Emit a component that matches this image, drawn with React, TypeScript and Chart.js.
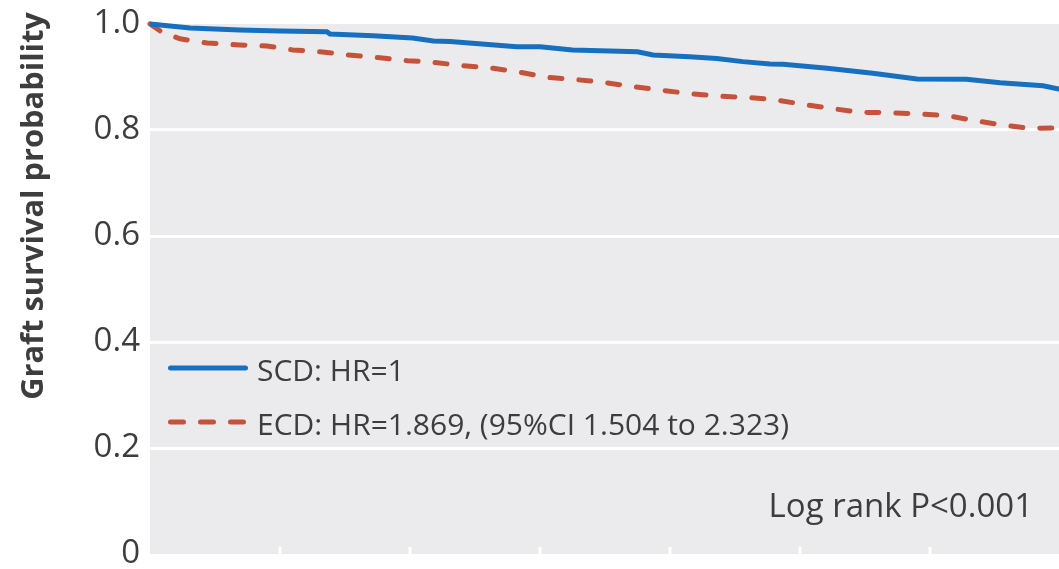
import React, { useEffect, useRef } from "react";
import { Chart, registerables } from "chart.js";

Chart.register(...registerables);

// Kaplan–Meier curves (years since transplant vs graft survival probability)
const scdTime = [0, 0.31, 0.69, 1.0, 1.36, 1.385, 1.715, 2.02, 2.18, 2.31, 2.82, 3.0, 3.25, 3.75, 3.87, 4.15, 4.36, 4.56, 4.77, 4.87, 5.21, 5.56, 5.9, 6.28, 6.54, 6.87, 7.0];
const scdSurv = [1.0, 0.9925, 0.9887, 0.9868, 0.9855, 0.981, 0.978, 0.9736, 0.968, 0.967, 0.957, 0.957, 0.951, 0.9477, 0.9415, 0.938, 0.935, 0.929, 0.9245, 0.924, 0.9164, 0.907, 0.8962, 0.8957, 0.889, 0.8836, 0.877];

const ecdTime = [0, 0.077, 0.23, 0.44, 0.69, 0.9, 1.1, 1.31, 1.52, 1.77, 1.98, 2.18, 2.36, 2.64, 2.85, 3.05, 3.27, 3.48, 3.72, 3.92, 4.13, 4.36, 4.62, 4.82, 5.02, 5.23, 5.46, 5.69, 5.95, 6.15, 6.36, 6.56, 6.77, 7.0];
const ecdSurv = [1.0, 0.987, 0.972, 0.964, 0.9604, 0.9585, 0.951, 0.9477, 0.9415, 0.9364, 0.9308, 0.9277, 0.9226, 0.9164, 0.9089, 0.8994, 0.8953, 0.8902, 0.8817, 0.8755, 0.8692, 0.8642, 0.861, 0.8566, 0.8485, 0.841, 0.8334, 0.8327, 0.83, 0.8264, 0.817, 0.8094, 0.803, 0.804];

const seriesLabels = ["SCD: HR=1", "ECD: HR=1.869, (95%CI 1.504 to 2.323)"];
const yTickStep = 0.2;
const xTickStep = 1;
const yAxisTitle = "Graft survival probability";
const annotationText = "Log rank P<0.001";

const BLUE = "#1670bf";
const RED = "#c5533a";
const TEXT = "#3d3d3d";
const BG = "#ebebee";
const FONT = "'Open Sans'";

export default function App() {
  const ref = useRef<HTMLCanvasElement | null>(null);

  useEffect(() => {
    const canvas = ref.current;
    if (!canvas) return;

    const fitFont = (ctx: any, text: string, weight: string, target: number) => {
      let size = 30;
      ctx.font = `${weight} ${size}px ${FONT}`;
      const w = ctx.measureText(text).width;
      size = (size * target) / w;
      ctx.font = `${weight} ${size}px ${FONT}`;
    };

    const decor = {
      id: "decor",
      beforeDraw(chart: any) {
        const { ctx, chartArea } = chart;
        ctx.save();
        ctx.fillStyle = BG;
        ctx.fillRect(chartArea.left, chartArea.top, chartArea.right - chartArea.left, chartArea.bottom - chartArea.top);
        ctx.restore();
      },
      afterDraw(chart: any) {
        const { ctx, chartArea } = chart;
        const xs = chart.scales.x;
        ctx.save();
        // inner white tick marks along the bottom edge
        ctx.strokeStyle = "#ffffff";
        ctx.lineWidth = 3;
        xs.ticks.forEach((t: any) => {
          if (t.value <= xs.min || t.value >= xs.max) return;
          const px = Math.round(xs.getPixelForValue(t.value));
          ctx.beginPath();
          ctx.moveTo(px, chartArea.bottom - 7);
          ctx.lineTo(px, chartArea.bottom);
          ctx.stroke();
        });

        // y axis title
        ctx.save();
        ctx.translate(34, 206);
        ctx.rotate(-Math.PI / 2);
        ctx.fillStyle = TEXT;
        fitFont(ctx, yAxisTitle, "bold", 388);
        ctx.textAlign = "center";
        ctx.textBaseline = "middle";
        ctx.fillText(yAxisTitle, 0, 0);
        ctx.restore();

        // legend
        const ds = chart.data.datasets;
        const lineRows = [368, 422];
        const textBaselines = [381, 435];
        ds.forEach((d: any, i: number) => {
          const y = lineRows[i];
          ctx.save();
          ctx.strokeStyle = d.borderColor;
          ctx.lineWidth = 5;
          ctx.lineCap = "round";
          if (d.borderDash && d.borderDash.length) ctx.setLineDash([13, 17]);
          ctx.beginPath();
          ctx.moveTo(170.5, y);
          ctx.lineTo(245.5, y);
          ctx.stroke();
          ctx.restore();
          ctx.fillStyle = TEXT;
          ctx.font = `30px ${FONT}`;
          ctx.textAlign = "left";
          ctx.textBaseline = "alphabetic";
          ctx.fillText(d.label, 257, textBaselines[i]);
        });

        // annotation
        ctx.fillStyle = TEXT;
        ctx.font = `33px ${FONT}`;
        ctx.textAlign = "right";
        ctx.textBaseline = "alphabetic";
        ctx.fillText(annotationText, 1033, 517);
        ctx.restore();
      },
    };

    const chart = new Chart(canvas, {
      type: "line",
      data: {
        datasets: [
          {
            label: seriesLabels[0],
            data: scdTime.map((t, i) => ({ x: t, y: scdSurv[i] })),
            borderColor: BLUE,
            borderWidth: 5,
            pointRadius: 0,
            tension: 0,
            fill: false,
            clip: 6,
          },
          {
            label: seriesLabels[1],
            data: ecdTime.map((t, i) => ({ x: t, y: ecdSurv[i] })),
            borderColor: RED,
            borderWidth: 5,
            borderDash: [12, 17],
            borderCapStyle: "round",
            pointRadius: 0,
            tension: 0,
            fill: false,
            clip: 6,
          },
        ],
      },
      options: {
        animation: false,
        responsive: false,
        layout: { padding: { top: 24, bottom: 15, left: 0, right: 0 } },
        plugins: { legend: { display: false }, tooltip: { enabled: false } },
        scales: {
          x: {
            type: "linear",
            min: 0,
            max: 7,
            ticks: { display: false, stepSize: xTickStep },
            grid: { display: false, drawTicks: false },
            border: { display: false },
          },
          y: {
            min: 0,
            max: 1,
            ticks: {
              stepSize: yTickStep,
              padding: 10,
              color: TEXT,
              font: { family: "Open Sans", size: 33 },
              callback: (v: any) => (Number(v) === 0 ? "0" : Number(v).toFixed(1)),
            },
            grid: {
              drawTicks: false,
              lineWidth: 3,
              color: (c: any) =>
                c.tick && (c.tick.value === 0 || c.tick.value === 1) ? "rgba(0,0,0,0)" : "#ffffff",
            },
            border: { display: false },
            afterFit: (s: any) => {
              s.width = 150;
              s.paddingTop = 0;
              s.paddingBottom = 0;
            },
          },
        },
      },
      plugins: [decor],
    });

    return () => chart.destroy();
  }, []);

  return (
    <div style={{ position: "absolute", left: 0, top: 0, width: 1059, height: 569, overflow: "hidden", background: "#fff" }}>
      <canvas ref={ref} width={1060} height={569} style={{ display: "block" }} />
    </div>
  );
}
